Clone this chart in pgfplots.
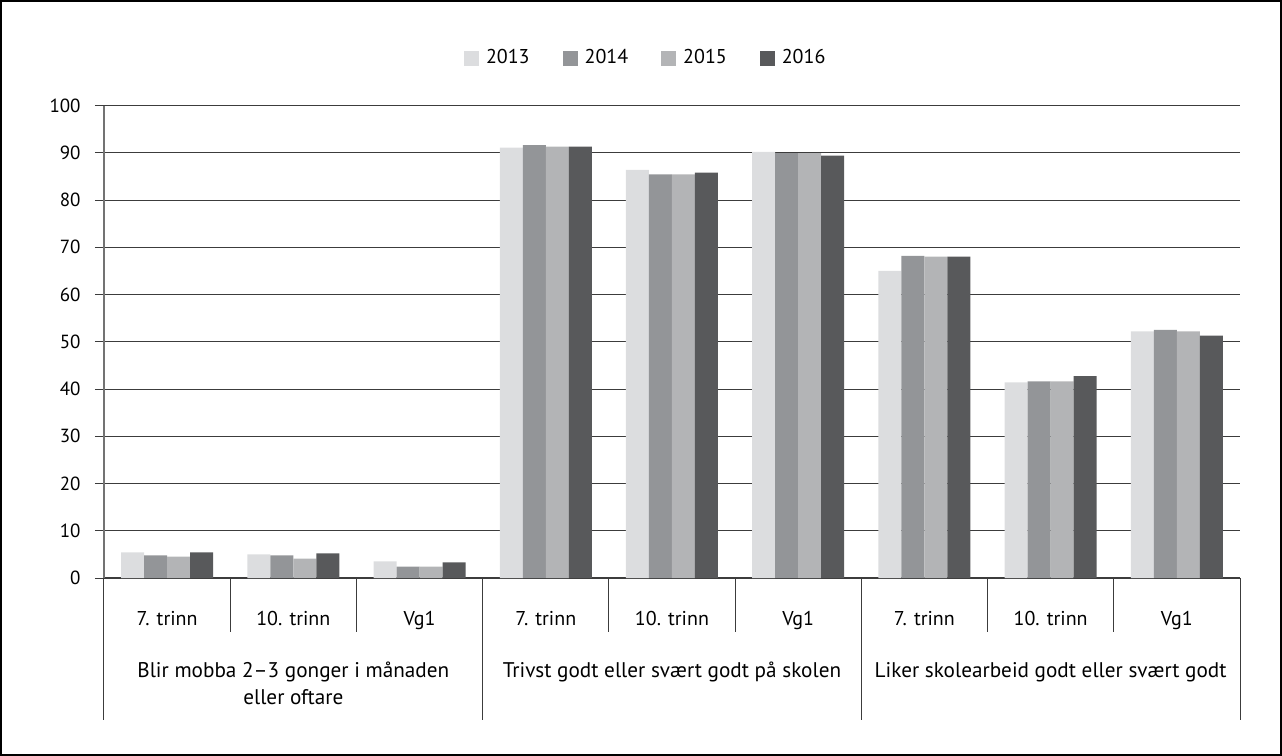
\documentclass[border=0pt]{standalone}
\usepackage{pgfplots}
\pgfplotsset{compat=1.18}
\usepackage{fontspec}
\setmainfont{PT Sans}
\definecolor{c13}{HTML}{DCDDDF}
\definecolor{c14}{HTML}{939598}
\definecolor{c15}{HTML}{B3B4B6}
\definecolor{c16}{HTML}{58595B}
\definecolor{gridc}{HTML}{3C3C3C}

\begin{document}
\begin{tikzpicture}
\useasboundingbox (-52pt,-89pt) rectangle (589pt,289pt);
\draw[line width=1pt] (-51.5pt,-88.5pt) rectangle (588.5pt,288.5pt);
\begin{axis}[
  at={(0pt,0pt)}, anchor=south west,
  scale only axis,
  width=568pt, height=236.25pt,
  ybar=0pt, bar width=11.5pt,
  xmin=-0.5, xmax=8.5,
  ymin=0, ymax=100,
  xtick={0,...,8},
  xticklabels={7. trinn,10. trinn,Vg1,7. trinn,10. trinn,Vg1,7. trinn,10. trinn,Vg1},
  ytick={0,10,...,100},
  /pgf/number format/assume math mode=true,
  axis lines*=left,
  x axis line style={gridc, line width=0.6pt},
  y axis line style={black!55, line width=0.6pt},
  ymajorgrids,
  grid style={gridc, line width=0.5pt},
  tick align=outside,
  major tick length=4.5pt,
  x tick style={draw=none},
  y tick style={gridc, line width=0.5pt},
  yticklabel style={font=\fontsize{9.5}{10}\selectfont, inner sep=0pt, xshift=-7pt},
  xticklabel style={font=\fontsize{10}{12}\selectfont, anchor=base, inner sep=0pt, yshift=-19pt},
  legend style={at={(0.476,1.1005)}, anchor=center, draw=none, fill=none,
    legend columns=4, font=\fontsize{10}{12}\selectfont,
    nodes={inner sep=0pt},
    /tikz/every odd column/.append style={column sep=3.5pt},
    /tikz/every even column/.append style={column sep=16.5pt}},
  legend image code/.code={\fill[#1] (0pt,-3.75pt) rectangle (7.5pt,3.75pt);},
]
\addplot[fill=c13, draw=none] coordinates {(0,5.4) (1,5.0) (2,3.5) (3,91.1) (4,86.4) (5,90.2) (6,65.0) (7,41.4) (8,52.2)};
\addplot[fill=c14, draw=none] coordinates {(0,4.8) (1,4.8) (2,2.4) (3,91.6) (4,85.4) (5,89.9) (6,68.2) (7,41.6) (8,52.5)};
\addplot[fill=c15, draw=none] coordinates {(0,4.5) (1,4.1) (2,2.4) (3,91.3) (4,85.4) (5,89.9) (6,68.0) (7,41.6) (8,52.2)};
\addplot[fill=c16, draw=none] coordinates {(0,5.4) (1,5.2) (2,3.3) (3,91.3) (4,85.8) (5,89.4) (6,68.0) (7,42.7) (8,51.3)};
\legend{2013,2014,2015,2016}
\end{axis}
% category separators below the axis
\foreach \i in {1,2,4,5,7,8}
  \draw[gridc, line width=0.5pt] (\i*63.111pt,0pt) -- ++(0,-27pt);
\foreach \i in {0,3,6,9}
  \draw[gridc, line width=0.5pt] (\i*63.111pt,0pt) -- ++(0,-71pt);
\begin{scope}[every node/.style={font=\fontsize{10.6}{13.5}\selectfont, align=center, anchor=north, inner sep=0pt}]
\node at (94.67pt,-42pt) {Blir mobba 2–3 gonger i månaden\\eller oftare};
\node at (284pt,-42pt) {Trivst godt eller svært godt på skolen};
\node at (473.33pt,-42pt) {Liker skolearbeid godt eller svært godt};
\end{scope}
\end{tikzpicture}
\end{document}
